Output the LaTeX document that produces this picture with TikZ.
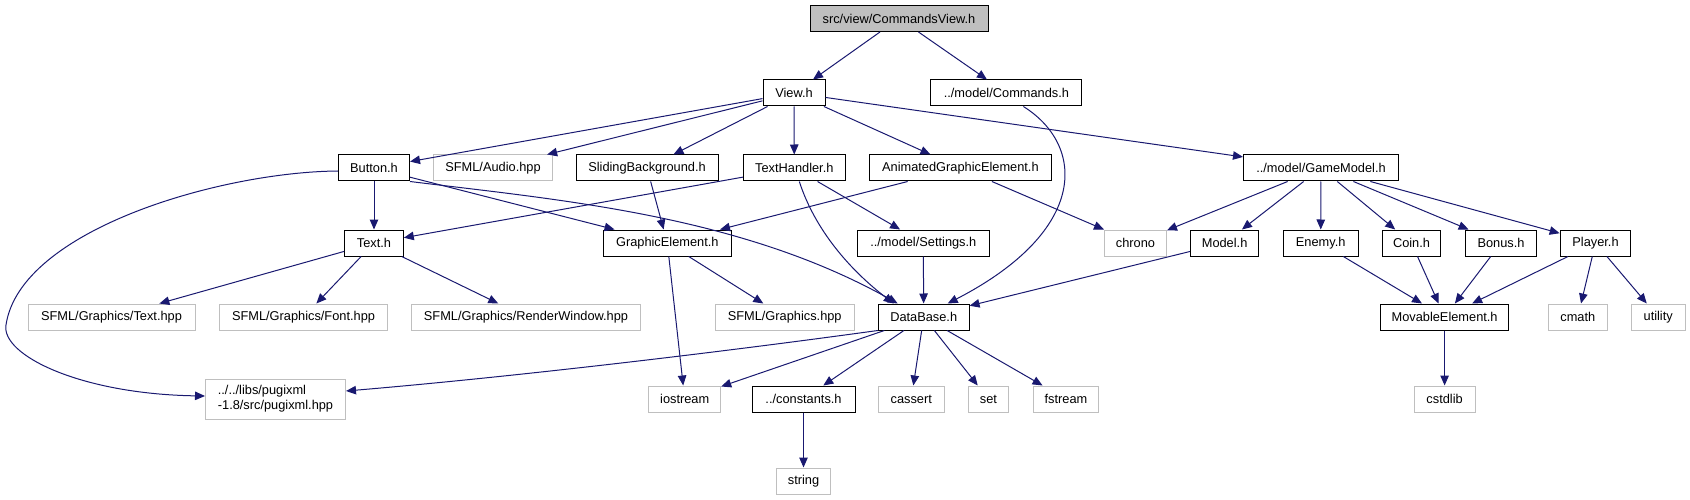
\documentclass[tikz,border=0pt]{standalone}
\usepackage{fontspec}
\setmainfont{Liberation Sans}
\usetikzlibrary{arrows.meta}
\definecolor{edgec}{HTML}{191970}
\definecolor{grayb}{HTML}{BFBFBF}
\definecolor{rootfill}{HTML}{BFBFBF}
\begin{document}
\begin{tikzpicture}[x=1pt,y=-1pt,
  box/.style={draw=black, line width=1pt, minimum height=26pt, inner xsep=1pt, inner ysep=0pt,
    font=\fontsize{12.8}{15}\selectfont, anchor=center},
  sysbox/.style={box, draw=grayb, line width=1pt},
  rootbox/.style={box, fill=rootfill},
  dep/.style={draw=edgec, line width=1pt, -{Triangle[length=10pt,width=8.5pt]}},
]
\useasboundingbox (0,0) rectangle (1690,500);
% row 0
\node[rootbox, minimum width=178pt] (cv) at (899,18.5) {src/view/CommandsView.h};
% row 1
\node[box, minimum width=62pt] (view) at (794,93) {View.h};
\node[box, minimum width=151pt] (cmds) at (1006.4,93) {../model/Commands.h};
% row 2
\node[box, minimum width=71pt] (button) at (374,168) {Button.h};
\node[sysbox, minimum width=119pt] (audio) at (493,168) {SFML/Audio.hpp};
\node[box, minimum width=142pt] (sliding) at (647,168) {SlidingBackground.h};
\node[box, minimum width=102pt] (texth) at (794.3,168) {TextHandler.h};
\node[box, minimum width=182pt] (anim) at (960.4,168) {AnimatedGraphicElement.h};
\node[box, minimum width=155pt] (gm) at (1321,168) {../model/GameModel.h};
% row 3
\node[box, minimum width=58.6pt] (text) at (374,243) {Text.h};
\node[box, minimum width=127.4pt] (ge) at (667.3,243) {GraphicElement.h};
\node[box, minimum width=132pt] (settings) at (923.3,243) {../model/Settings.h};
\node[sysbox, minimum width=62pt] (chrono) at (1135.5,243) {chrono};
\node[box, minimum width=68.5pt] (model) at (1224.6,243) {Model.h};
\node[box, minimum width=75pt] (enemy) at (1320.7,243) {Enemy.h};
\node[box, minimum width=58.7pt] (coin) at (1411.5,243) {Coin.h};
\node[box, minimum width=71pt] (bonus) at (1501,243) {Bonus.h};
\node[box, minimum width=70.7pt] (player) at (1595.5,243) {Player.h};
% row 4
\node[sysbox, minimum width=167pt] (gtext) at (111.5,317) {SFML/Graphics/Text.hpp};
\node[sysbox, minimum width=168pt] (gfont) at (303.5,317) {SFML/Graphics/Font.hpp};
\node[sysbox, minimum width=229pt] (grw) at (526,317) {SFML/Graphics/RenderWindow.hpp};
\node[sysbox, minimum width=139pt] (ghpp) at (784.7,317) {SFML/Graphics.hpp};
\node[box, minimum width=90.7pt] (db) at (923.7,317) {DataBase.h};
\node[box, minimum width=128.7pt] (mov) at (1444.6,317) {MovableElement.h};
\node[sysbox, minimum width=58.7pt] (cmath) at (1577.8,317) {cmath};
\node[sysbox, minimum width=53.8pt] (utility) at (1658.2,317) {utility};
% row 5
\node[sysbox, minimum width=140pt, minimum height=40pt, align=left] (pugi) at (275.5,399) {../../libs/pugixml\\-1.8/src/pugixml.hpp};
\node[sysbox, minimum width=72pt] (iostream) at (684.7,399) {iostream};
\node[box, minimum width=103pt] (consts) at (803.5,399) {../constants.h};
\node[sysbox, minimum width=66pt] (cassert) at (911.3,399) {cassert};
\node[sysbox, minimum width=40pt] (set) at (988.4,399) {set};
\node[sysbox, minimum width=65.5pt] (fstream) at (1066,399) {fstream};
\node[sysbox, minimum width=61pt] (cstdlib) at (1444.6,399) {cstdlib};
% row 6
\node[sysbox, minimum width=54pt] (string) at (803.5,481) {string};

% edges
\draw[dep] (cv) -- (view);
\draw[dep] (cv) -- (cmds);
\draw[dep] (view) -- (button);
\draw[dep] (view) -- (audio);
\draw[dep] (view) -- (sliding);
\draw[dep] (view) -- (texth);
\draw[dep] (view) -- (anim);
\draw[dep] (view) -- (gm);
\draw[dep] ([xshift=17pt]cmds.south) .. controls (1085,145) and (1090,230) .. ([xshift=24pt]db.north);
\draw[dep] (button) -- (text);
\draw[dep] (button) -- (ge);
\draw[dep] (button.south east) .. controls (560,200) and (740,215) .. ([xshift=-26pt]db.north);
\draw[dep] ([yshift=-3pt]button.west) .. controls (220,172) and (20,230) .. (6,325) .. controls (1,355) and (80,394) .. ([yshift=3pt]pugi.west);
\draw[dep] (sliding) -- (ge);
\draw[dep] (texth) -- (text);
\draw[dep] ([xshift=5pt]texth.south) .. controls (815,230) and (850,270) .. ([xshift=-30pt]db.north);
\draw[dep] (texth) -- (settings);
\draw[dep] (anim) -- (ge);
\draw[dep] (anim) -- (chrono);
\draw[dep] (gm) -- (chrono);
\draw[dep] (gm) -- (model);
\draw[dep] (gm) -- (enemy);
\draw[dep] (gm) -- (coin);
\draw[dep] (gm) -- (bonus);
\draw[dep] (gm) -- (player);
\draw[dep] (text) -- (gtext);
\draw[dep] (text) -- (gfont);
\draw[dep] (text) -- (grw);
\draw[dep] (ge) -- (iostream);
\draw[dep] (ge) -- (ghpp);
\draw[dep] (settings) -- (db);
\draw[dep] (model) -- (db);
\draw[dep] (enemy) -- (mov);
\draw[dep] (coin) -- (mov);
\draw[dep] (bonus) -- (mov);
\draw[dep] (player) -- (mov);
\draw[dep] (player) -- (cmath);
\draw[dep] (player) -- (utility);
\draw[dep] (db.south west) .. controls (700,355) and (500,378) .. ([yshift=8pt]pugi.east);
\draw[dep] (db) -- (iostream);
\draw[dep] (db) -- (consts);
\draw[dep] (db) -- (cassert);
\draw[dep] (db) -- (set);
\draw[dep] (db) -- (fstream);
\draw[dep] (consts) -- (string);
\draw[dep] (mov) -- (cstdlib);
\end{tikzpicture}
\end{document}
